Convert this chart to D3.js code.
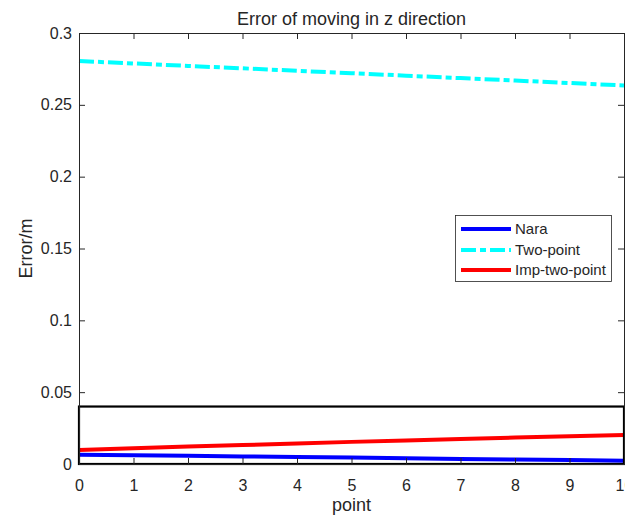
<!DOCTYPE html>
<html><head><meta charset="utf-8">
<script src="https://cdn.jsdelivr.net/npm/d3@7"></script>
<style>
html,body{margin:0;padding:0;background:#fff;overflow:hidden}
text{font-family:"Liberation Sans",Arial,sans-serif;fill:#262626}
</style></head>
<body>
<svg id="c" width="625" height="516"></svg>
<script>
const points = [0,1,2,3,4,5,6,7,8,9,10];
const nara = [0.0065,0.0061,0.0057,0.0053,0.0049,0.0045,0.0040,0.0035,0.0031,0.0027,0.0023];
const twoPoint = [0.2805,0.2788,0.2771,0.2754,0.2737,0.2720,0.2703,0.2686,0.2669,0.2652,0.2635];
const impTwoPoint = [0.0097,0.0109,0.0121,0.0132,0.0143,0.0154,0.0164,0.0174,0.0184,0.0193,0.0202];
const xTicks = [0,1,2,3,4,5,6,7,8,9,10];
const yTicks = [0,0.05,0.1,0.15,0.2,0.25,0.3];
const yTickLabels = ["0","0.05","0.1","0.15","0.2","0.25","0.3"];
const zoomBox = {x0:0,x1:10,y0:0,y1:0.04};
const seriesNames = ["Nara","Two-point","Imp-two-point"];
const seriesColors = ["#0000ff","#00ffff","#ff0000"];

const svg = d3.select("#c");
const L=79,R=624,T=33,B=464;
const x = d3.scaleLinear().domain([0,10]).range([L,R]);
const y = d3.scaleLinear().domain([0,0.3]).range([B,T]);
const ax = "#262626";

// data lines
const line = d3.line().x((d,i)=>x(points[i])).y(d=>y(d));
const data = [nara,twoPoint,impTwoPoint];
const g = svg.append("g");
g.append("rect").attr("x",L).attr("y",T).attr("width",R-L).attr("height",B-T).attr("fill","#fff");
data.forEach((s,i)=>{
  g.append("path").datum(s).attr("d",line).attr("fill","none")
   .attr("stroke",seriesColors[i]).attr("stroke-width",4)
   .attr("stroke-dasharray", i===1 ? "15,4,6,4" : null);
});
// zoom rectangle
svg.append("rect").attr("x",x(zoomBox.x0)).attr("y",y(zoomBox.y1))
  .attr("width",x(zoomBox.x1)-x(zoomBox.x0)).attr("height",y(zoomBox.y0)-y(zoomBox.y1))
  .attr("fill","none").attr("stroke","#000").attr("stroke-width",2.2);

// axes
const tl=6;
const xb = d3.axisBottom(x).tickValues(xTicks).tickSize(-tl).tickPadding(16).tickFormat(d3.format("d"));
const xt = d3.axisTop(x).tickValues(xTicks).tickSize(-tl).tickFormat("");
const yl = d3.axisLeft(y).tickValues(yTicks).tickSize(-tl).tickPadding(7).tickFormat((d,i)=>yTickLabels[i]);
const yr = d3.axisRight(y).tickValues(yTicks).tickSize(-tl).tickFormat("");
function style(sel){
  sel.select(".domain").attr("stroke",ax).attr("stroke-width",1);
  sel.selectAll(".tick line").attr("stroke",ax).attr("stroke-width",1);
  sel.selectAll("text").attr("font-size",16).attr("font-family","Liberation Sans, Arial, sans-serif").attr("fill",ax);
}
svg.append("g").attr("transform",`translate(0,${B})`).call(xb).call(style);
svg.append("g").attr("transform",`translate(0,${T})`).call(xt).call(style);
svg.append("g").attr("transform",`translate(${L},0)`).call(yl).call(style);
svg.append("g").attr("transform",`translate(${R},0)`).call(yr).call(style);

// title and labels
svg.append("text").attr("x",(L+R)/2).attr("y",25).attr("text-anchor","middle").attr("font-size",18).text("Error of moving in z direction");
svg.append("text").attr("x",(L+R)/2).attr("y",511).attr("text-anchor","middle").attr("font-size",18).text("point");
svg.append("text").attr("transform",`translate(31.5,${(T+B)/2}) rotate(-90)`).attr("text-anchor","middle").attr("font-size",18).text("Error/m");

// legend
const lg = svg.append("g");
lg.append("rect").attr("x",455.5).attr("y",215.5).attr("width",156).attr("height",66)
  .attr("fill","#fff").attr("stroke",ax).attr("stroke-width",0.8);
const rowsY=[229,250,270];
seriesNames.forEach((n,i)=>{
  lg.append("line").attr("x1",461).attr("x2",511).attr("y1",rowsY[i]).attr("y2",rowsY[i])
    .attr("stroke",seriesColors[i]).attr("stroke-width",4)
    .attr("stroke-dasharray", i===1 ? "15,4,6,4" : null);
  lg.append("text").attr("x",515).attr("y",rowsY[i]).attr("dy","0.35em").attr("font-size",15).text(n);
});
</script>
</body></html>
